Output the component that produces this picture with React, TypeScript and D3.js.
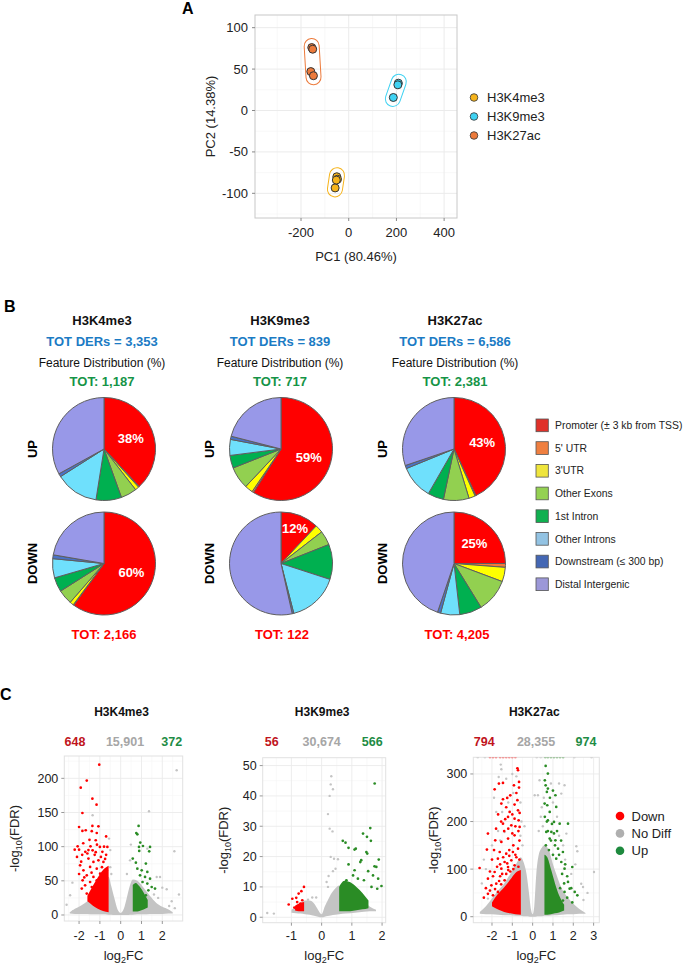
import React from "react";
import * as d3 from "d3";

type Pt = [number, number];

const FONT = "'Liberation Sans', Arial, Helvetica, sans-serif";

// ---------- panel A : PCA ----------
const pcaGroups = ["H3K4me3", "H3K9me3", "H3K27ac"];
const pcaColors = ["#F6B41C", "#3FD2F2", "#EC7A3B"];
const k4me3Pca: Pt[] = [[-57, -93.5], [-50, -80], [-47, -83], [-52, -84]];
const k9me3Pca: Pt[] = [[187, 15.7], [208, 33], [206, 31]];
const k27acPca: Pt[] = [[-155, 76], [-151, 74], [-159, 47], [-148, 42]];
const pcaXTicks = [-200, 0, 200, 400];
const pcaYTicks = [-100, -50, 0, 50, 100];

// ---------- panel B : feature pies ----------
const features = [
  "Promoter (\u00b1 3 kb from TSS)",
  "5' UTR",
  "3'UTR",
  "Other Exons",
  "1st Intron",
  "Other Introns",
  "Downstream (\u2264 300 bp)",
  "Distal Intergenic",
];
const sliceColors = ["#FF0000", "#F47A3A", "#FFFF00", "#92D050", "#00B050", "#6FE0FC", "#4A72C8", "#9898E8"];
const legendColors = ["#E0312A", "#EF7F40", "#EFE53C", "#94D152", "#10B050", "#93C3E3", "#4467B4", "#9C98D8"];
const pieMarks = ["H3K4me3", "H3K9me3", "H3K27ac"];
const totDers = ["3,353", "839", "6,586"];
const totUp = ["1,187", "717", "2,381"];
const totDown = ["2,166", "122", "4,205"];
const upPct = [
  [38, 0.3, 1.2, 5, 8, 13.5, 1, 33],
  [59, 0.5, 2.5, 7, 4, 5, 1, 21],
  [43, 0.3, 2, 8, 5, 10.5, 1, 30.2],
];
const downPct = [
  [60, 0.2, 1.2, 4.6, 4.5, 6, 1.2, 22.3],
  [12, 0, 2.5, 4.5, 11, 16, 0.5, 53.5],
  [25, 1.2, 4.5, 10.5, 7, 6, 1, 44.8],
];
const upLabel = ["38%", "59%", "43%"];
const downLabel = ["60%", "12%", "25%"];

// ---------- panel C : volcano plots ----------
const volcanoTitles = ["H3K4me3", "H3K9me3", "H3K27ac"];
const downCounts = ["648", "56", "794"];
const noDiffCounts = ["15,901", "30,674", "28,355"];
const upCounts = ["372", "566", "974"];

// H3K4me3
const v1BandX = [-2.45, -2.2, -1.9, -1.6, -1.3, -1.0, -0.75, -0.58, -0.45, -0.3, -0.15, 0, 0.15, 0.3, 0.45, 0.58, 0.8, 1.1, 1.4, 1.7, 2.0, 2.3, 2.5];
const v1BandHi = [4, 9, 14, 20, 28, 38, 50, 56, 42, 24, 8, 3, 9, 26, 44, 52, 50, 40, 28, 18, 12, 8, 4];
const v1BandLo = [2, 1.5, 1.5, 1.5, 1, 1, 1, 0.5, 0.5, 0, 0, 0, 0, 0, 0.5, 0.5, 1, 1, 1.5, 1.5, 1.5, 2, 2];
const v1DownX = [-1.6, -1.35, -1.1, -0.85, -0.58];
const v1DownHi = [28, 42, 55, 66, 72];
const v1DownLo = [20, 14, 9, 6, 4];
const v1UpX = [0.58, 0.72, 0.9, 1.1, 1.3];
const v1UpHi = [44, 47, 42, 33, 22];
const v1UpLo = [5, 5, 6, 8, 11];
const v1DownPts: Pt[] = [
  [-1.03, 220], [-1.63, 196.7], [-1.92, 186.4], [-1.36, 170.3], [-1.16, 161.5], [-1.84, 149.3],
  [-2.0, 128.8], [-1.36, 130.3], [-1.07, 129.8], [-1.84, 123], [-1.68, 124], [-1.39, 122.6],
  [-1.2, 109.4], [-2.21, 95.6], [-2.07, 100.5], [-2.0, 95.6], [-1.7, 92.4], [-1.45, 100.5],
  [-1.35, 94.7], [-1.14, 102.9], [-1.0, 99.6], [-0.88, 92.4], [-0.64, 99.6], [-1.55, 82.5],
  [-1.31, 77.6], [-1.07, 80], [-0.83, 77.6], [-1.95, 72.7], [-1.79, 65.4], [-1.47, 70.3],
  [-1.15, 67.8], [-0.67, 65.4], [-1.63, 58.1], [-1.31, 55.7], [-0.99, 60.5], [-1.83, 50.8],
  [-1.47, 48.3], [-1.15, 50.8], [-1.71, 43.4], [-1.39, 41], [-1.87, 38.6], [-1.63, 31.3],
  [-1.23, 33.7], [-1.25, 88], [-0.95, 85], [-0.75, 82], [-1.6, 90], [-1.9, 78], [-0.7, 88],
  [-2.1, 85], [-1.85, 88], [-1.55, 95], [-1.2, 92], [-0.9, 70], [-0.75, 58], [-1.4, 62],
  [-1.75, 55], [-2.0, 60], [-0.8, 100], [-1.15, 120], [-0.7, 115], [-1.5, 110], [-1.8, 105],
];
const v1UpPts: Pt[] = [
  [0.86, 130.3], [0.75, 120], [0.8, 118], [0.94, 106], [1.07, 101], [1.41, 99.6], [0.88, 99.6],
  [0.89, 93.7], [1.37, 93.2], [0.58, 82.5], [0.73, 76.6], [1.21, 75.2], [0.8, 67.8], [1.01, 65.4],
  [1.28, 63], [0.93, 58.1], [1.17, 55.7], [1.41, 53.2], [1.05, 48.3], [1.28, 46], [1.49, 41],
  [1.65, 38.6], [1.33, 36.1], [1.21, 28.8],
];
const v1GreyPts: Pt[] = [
  [2.69, 211.8], [1.36, 151.8], [-1.35, 146], [-0.56, 111.8], [0.49, 103], [1.28, 97.1],
  [2.58, 93.2], [-2.32, 47.3], [-2.43, 28.8], [2.21, 37.6], [1.73, 55.7], [1.89, 55.7],
  [2.33, 13.2], [-0.5, 95], [2.45, 20], [0.3, 60], [-2.6, 15], [-2.3, 5], [2.6, 10], [2.8, 30],
  [-0.5, 70], [-0.45, 60], [0.45, 80], [1.6, 30], [1.8, 25], [2.0, 40],
];

// H3K9me3
const v2BandX = [-1.0, -0.85, -0.7, -0.55, -0.4, -0.25, -0.12, 0, 0.1, 0.2, 0.3, 0.45, 0.58, 0.8, 1.1, 1.4, 1.6, 1.8];
const v2BandHi = [2.5, 3.5, 4.5, 5.5, 5.5, 4.5, 2.5, 1.0, 3.5, 5.5, 7.5, 9.5, 10.5, 9, 7, 5, 3.5, 2.5];
const v2BandLo = [1.5, 1.3, 1.2, 1.0, 0.8, 0.5, 0.2, 0, 0.2, 0.4, 0.6, 0.8, 1.0, 1.2, 1.5, 1.8, 2.0, 2.0];
const v2DownX = [-0.88, -0.75, -0.58];
const v2DownHi = [3.8, 4.5, 5];
const v2DownLo = [2.2, 2.0, 2.0];
const v2UpX = [0.58, 0.75, 0.95, 1.15, 1.35, 1.55];
const v2UpHi = [10, 12, 11.5, 10, 8, 5.5];
const v2UpLo = [2, 2, 2, 2.3, 2.6, 3];
const v2DownPts: Pt[] = [
  [-0.585, 10], [-0.67, 8.6], [-0.76, 7.8], [-0.84, 6.4], [-0.97, 6.1], [-1.09, 4.2],
  [-0.64, 5.6], [-0.81, 5.0], [-0.7, 4.5], [-0.9, 3.2], [-0.78, 3.0], [-0.65, 3.5],
];
const v2UpPts: Pt[] = [
  [1.755, 44.1], [1.61, 29.4], [1.37, 27.6], [1.5, 26.5], [1.63, 25.2], [0.7, 25.2], [0.79, 24.6],
  [0.89, 22.9], [1.09, 22.3], [1.13, 22.6], [1.48, 21.5], [1.51, 21], [1.31, 18.8], [1.28, 18.2],
  [1.89, 19], [0.89, 17.4], [1.75, 16.8], [1.81, 16.6], [1.09, 15.5], [1.54, 15.2], [1.7, 13.8],
  [1.87, 12.7], [1.98, 10.3], [1.84, 9.4], [1.65, 10], [1.4, 12.2], [1.2, 12.7], [1.04, 13.8],
  [0.82, 12.2],
];
const v2GreyPts: Pt[] = [
  [0.32, 46.5], [0.3, 43.8], [0.375, 42.2], [0.265, 40], [0.21, 34], [0.265, 29.2], [0.36, 28.3],
  [0.3, 19.9], [0.41, 19.3], [0.54, 19.1], [0.46, 16], [0.375, 15.2], [0.23, 13.6], [0.165, 11.6],
  [0.21, 10], [-1.8, 1.4], [-1.58, 1.2], [-0.18, 6.5], [-0.31, 6.5], [-0.45, 5.8],
];

// H3K27ac
const v3BandX = [-2.6, -2.3, -2.0, -1.7, -1.4, -1.1, -0.8, -0.58, -0.45, -0.3, -0.18, -0.08, 0, 0.08, 0.18, 0.3, 0.45, 0.58, 0.8, 1.0, 1.2, 1.4, 1.7, 2.0, 2.3, 2.6];
const v3BandHi = [10, 22, 38, 55, 70, 90, 112, 125, 115, 90, 50, 15, 5, 22, 90, 130, 145, 150, 140, 110, 85, 62, 42, 27, 16, 8];
const v3BandLo = [6, 5, 5, 4, 3, 3, 2, 2, 1, 1, 0.5, 0, 0, 0, 0.5, 1, 1, 2, 2, 3, 3, 4, 5, 5, 6, 6];
const v3DownX = [-2.0, -1.7, -1.4, -1.1, -0.85, -0.58];
const v3DownHi = [30, 48, 62, 78, 92, 98];
const v3DownLo = [22, 15, 10, 7, 5, 4];
const v3UpX = [0.58, 0.72, 0.9, 1.1, 1.3, 1.55];
const v3UpHi = [130, 125, 100, 70, 45, 25];
const v3UpLo = [4, 4, 5, 7, 9, 13];
const v3DownPts: Pt[] = [
  [-0.72, 307.8], [-0.75, 312], [-1.87, 267.8], [-1.66, 279.7], [-1.46, 281.1], [-0.67, 283.2],
  [-0.67, 271.3], [-0.92, 276.2], [-1.25, 249.6], [-1.46, 246.8], [-1.54, 237.7], [-0.89, 235.6],
  [-0.72, 223.6], [-1.13, 220.1], [-0.64, 218], [-1.21, 209.6], [-0.89, 206.1], [-1.46, 195.6],
  [-1.05, 192.1], [-0.69, 202.6], [-0.64, 188.6], [-2.2, 174.6], [-1.84, 160.6], [-2.25, 141],
  [-1.54, 157.1], [-1.21, 164.1], [-0.89, 171.1], [-1.62, 136], [-1.3, 132.5], [-0.97, 136],
  [-0.72, 143], [-2.61, 102.4], [-1.71, 122], [-1.38, 115], [-1.05, 118.5], [-1.87, 94],
  [-1.54, 101], [-1.21, 104.5], [-0.89, 108], [-2.03, 66], [-1.79, 69.4], [-1.38, 76.5],
  [-1.95, 45], [-1.71, 52], [-1.1, 95], [-0.8, 125], [-0.65, 160], [-1.3, 90], [-1.6, 85],
  [-0.95, 150], [-1.15, 140], [-1.4, 180], [-1.0, 175], [-0.7, 180], [-1.2, 185], [-0.85, 190],
  [-1.35, 205], [-1.0, 215], [-0.75, 245], [-1.1, 255], [-0.8, 260], [-1.3, 230], [-1.7, 215],
  [-1.55, 200], [-1.8, 185], [-2.0, 120], [-1.9, 140], [-1.45, 125], [-1.15, 128], [-0.85, 130],
  [-0.65, 120], [-1.6, 110], [-1.25, 112], [-0.95, 100], [-0.7, 105], [-2.1, 95], [-1.75, 105],
  [-1.5, 90], [-1.2, 98], [-2.2, 80], [-1.95, 85], [-1.65, 75], [-2.3, 60], [-2.1, 55],
  [-1.85, 58], [-1.55, 68], [-2.4, 40], [-2.2, 48],
];
const v3UpPts: Pt[] = [
  [0.64, 316.9], [0.75, 300.7], [0.6, 286.7], [0.64, 276.2], [0.75, 269.2], [1.12, 255.2],
  [0.7, 262.2], [0.59, 237.7], [0.72, 234.2], [1.16, 230.7], [0.84, 220.1], [0.75, 202.6],
  [1.05, 199.1], [1.33, 195.6], [1.74, 195.6], [0.67, 178.1], [0.92, 178.1], [0.84, 164.1],
  [1.12, 160.6], [1.25, 143], [1.49, 136], [1.95, 104.5], [1.57, 101], [1.41, 115], [1.16, 122],
  [1.74, 73], [1.82, 59], [2.07, 52], [1.57, 52], [1.49, 34], [0.65, 150], [0.8, 140], [1.0, 130],
  [0.7, 200], [0.95, 195], [1.2, 180], [1.4, 160], [0.9, 160], [1.1, 150], [1.3, 130], [1.6, 110],
  [0.75, 180], [1.05, 175], [1.45, 90], [1.7, 85], [1.55, 70], [1.9, 60], [1.35, 60], [2.2, 45],
  [1.7, 40], [1.95, 30], [0.6, 210], [0.85, 250], [1.0, 265],
];
const v3GreyPts: Pt[] = [
  [-1.57, 319.7], [-1.54, 309.9], [-1.67, 293.7], [0.34, 286.7], [0.1, 255.2], [0.26, 255.2],
  [1.57, 276.2], [1.41, 258.7], [-1.79, 220.1], [-1.38, 178.1], [1.66, 174.6], [2.15, 148],
  [2.2, 137.4], [3.02, 94], [2.39, 69.4], [2.48, 62.4], [-2.2, 38], [-2.23, 19], [-1.95, 22.5],
  [-0.4, 190], [0.4, 210], [-1.9, 250], [-2.4, 120], [-2.0, 150], [-1.7, 180], [-1.5, 220],
  [-1.2, 240], [-0.95, 260], [-0.6, 240], [-0.55, 200], [-0.6, 170], [-2.5, 70], [-2.3, 100],
  [-1.6, 160], [-0.5, 150], [0.5, 190], [0.45, 230], [0.55, 250], [0.3, 180], [1.3, 170],
  [1.5, 150], [1.6, 120], [1.9, 90], [2.1, 110], [1.2, 210], [1.0, 240], [0.9, 280], [1.3, 280],
  [2.7, 50], [2.5, 35], [-1.0, 300], [-1.3, 290], [-0.8, 295],
];
const v3CapDownX = [-2.1, -1.95, -1.8, -1.6, -1.45, -1.3, -1.15, -1.0, -0.85];
const v3CapUpX = [0.62, 0.75, 0.9, 1.05, 1.2, 1.35, 1.5];
const v3CapGreyX = [-2.7, -2.35, 0.2, 0.4, 2.05, 2.9];

const RED = "#FF0000";
const GREY = "#C4C4C4";
const GREEN = "#2A8C25";

// ---------- helpers ----------
function stadium(pts: Pt[], sx: (v: number) => number, sy: (v: number) => number, r: number) {
  const px = pts.map((p) => [sx(p[0]), sy(p[1])]);
  let best = [px[0], px[0]];
  let bd = -1;
  px.forEach((a) =>
    px.forEach((b) => {
      const d = Math.hypot(a[0] - b[0], a[1] - b[1]);
      if (d > bd) {
        bd = d;
        best = [a, b];
      }
    })
  );
  const [a, b] = best;
  const cx = (a[0] + b[0]) / 2;
  const cy = (a[1] + b[1]) / 2;
  const ang = (Math.atan2(b[1] - a[1], b[0] - a[0]) * 180) / Math.PI;
  return { cx, cy, len: bd + 3, ang, r };
}

function PcaPanel() {
  const x = d3.scaleLinear().domain([-393, 454]).range([255, 457]);
  const y = d3.scaleLinear().domain([-129.8, 115.3]).range([218, 15]);
  const groups = [k4me3Pca, k9me3Pca, k27acPca];
  const xMinor = [-300, -100, 100, 300];
  const yMinor = [-125, -75, -25, 25, 75];
  return (
    <g>
      <text x={182} y={14} fontSize={16} fontWeight="bold">A</text>
      {xMinor.map((t) => (
        <line key={"xm" + t} x1={x(t)} x2={x(t)} y1={15} y2={218} stroke="#F4F4F4" strokeWidth={0.6} />
      ))}
      {yMinor.map((t) => (
        <line key={"ym" + t} x1={255} x2={457} y1={y(t)} y2={y(t)} stroke="#F4F4F4" strokeWidth={0.6} />
      ))}
      {pcaXTicks.map((t) => (
        <line key={"xg" + t} x1={x(t)} x2={x(t)} y1={15} y2={218} stroke="#EBEBEB" strokeWidth={1} />
      ))}
      {pcaYTicks.map((t) => (
        <line key={"yg" + t} x1={255} x2={457} y1={y(t)} y2={y(t)} stroke="#EBEBEB" strokeWidth={1} />
      ))}
      <rect x={255} y={15} width={202} height={203} fill="none" stroke="#C8C8C8" strokeWidth={1} />
      {pcaXTicks.map((t) => (
        <g key={"xt" + t}>
          <line x1={x(t)} x2={x(t)} y1={218} y2={221} stroke="#888" />
          <text x={x(t)} y={236.5} fontSize={13} textAnchor="middle" fill="#222">{t}</text>
        </g>
      ))}
      {pcaYTicks.map((t) => (
        <g key={"yt" + t}>
          <line x1={252} x2={255} y1={y(t)} y2={y(t)} stroke="#888" />
          <text x={248} y={y(t) + 4.5} fontSize={13} textAnchor="end" fill="#222">{t}</text>
        </g>
      ))}
      <text x={356} y={261} fontSize={13} textAnchor="middle" fill="#222">PC1 (80.46%)</text>
      <text transform="translate(214.5,116.5) rotate(-90)" fontSize={13} textAnchor="middle" fill="#222">
        PC2 (14.38%)
      </text>
      {groups.map((g, i) => {
        const s = stadium(g, x, y, 7.5);
        return (
          <rect
            key={"h" + i}
            transform={`translate(${s.cx},${s.cy}) rotate(${s.ang})`}
            x={-s.len / 2 - s.r}
            y={-s.r}
            width={s.len + 2 * s.r}
            height={2 * s.r}
            rx={s.r}
            fill="none"
            stroke={pcaColors[i]}
            strokeWidth={1}
          />
        );
      })}
      {groups.map((g, i) =>
        g.map((p, j) => (
          <circle key={`p${i}-${j}`} cx={x(p[0])} cy={y(p[1])} r={4} fill={pcaColors[i]} stroke="#333" strokeWidth={1} />
        ))
      )}
      {pcaGroups.map((name, i) => (
        <g key={name}>
          <circle cx={474} cy={97.5 + i * 19} r={3.8} fill={pcaColors[i]} stroke="#333" strokeWidth={0.8} />
          <text x={487} y={97.5 + i * 19 + 4.5} fontSize={13} fill="#222">{name}</text>
        </g>
      ))}
    </g>
  );
}

function PiePanel() {
  const pie = d3.pie<number>().sort(null).value((d) => d);
  const R = 51.5;
  const arc = d3.arc<d3.PieArcDatum<number>>().innerRadius(0).outerRadius(R);
  const pieCx = [104, 281, 454];
  const textCx = [102, 280, 455];
  const upCy = 449;
  const downCy = 563.5;
  const one = (vals: number[], cx: number, cy: number, label: string, key: string) => {
    const arcs = pie(vals);
    const lr = vals[0] < 20 ? R * 0.74 : R * 0.56;
    const c = d3.arc<d3.PieArcDatum<number>>().innerRadius(lr).outerRadius(lr).centroid(arcs[0]);
    return (
      <g key={key} transform={`translate(${cx},${cy})`}>
        {arcs.map((a, i) =>
          a.value > 0 ? (
            <path key={i} d={arc(a) || ""} fill={sliceColors[i]} stroke="#5E5E5E" strokeWidth={1} />
          ) : null
        )}
        <text x={c[0]} y={c[1] + 4.5} fontSize={13} fontWeight="bold" fill="#fff" textAnchor="middle">
          {label}
        </text>
      </g>
    );
  };
  return (
    <g>
      <text x={4} y={312} fontSize={16} fontWeight="bold">B</text>
      {pieMarks.map((m, i) => (
        <g key={m}>
          <text x={textCx[i]} y={324.5} fontSize={13} fontWeight="bold" textAnchor="middle" fill="#111">{m}</text>
          <text x={textCx[i]} y={346} fontSize={13} fontWeight="bold" textAnchor="middle" fill="#1B7BC4">
            {`TOT DERs = ${totDers[i]}`}
          </text>
          <text x={textCx[i]} y={367} fontSize={12} textAnchor="middle" fill="#111">Feature Distribution (%)</text>
          <text x={textCx[i]} y={386} fontSize={13} fontWeight="bold" textAnchor="middle" fill="#169447">
            {`TOT: ${totUp[i]}`}
          </text>
          {one(upPct[i], pieCx[i], upCy, upLabel[i], "u" + i)}
          {one(downPct[i], pieCx[i], downCy, downLabel[i], "d" + i)}
          <text transform={`translate(${pieCx[i] - R - 16},${upCy}) rotate(-90)`} fontSize={13} fontWeight="bold" textAnchor="middle">UP</text>
          <text transform={`translate(${pieCx[i] - R - 16},${downCy}) rotate(-90)`} fontSize={13} fontWeight="bold" textAnchor="middle">DOWN</text>
          <text x={textCx[i] + 2} y={639} fontSize={13} fontWeight="bold" textAnchor="middle" fill="#FF0000">
            {`TOT: ${totDown[i]}`}
          </text>
        </g>
      ))}
      {features.map((f, i) => (
        <g key={f}>
          <rect x={536} y={419 + i * 22.7} width={12.3} height={12.7} fill={legendColors[i]} stroke="#555" strokeWidth={0.8} />
          <text x={555} y={419 + i * 22.7 + 10} fontSize={10.4} fill="#222">{f}</text>
        </g>
      ))}
    </g>
  );
}

interface VSpec {
  idx: number;
  left: number;
  right: number;
  top: number;
  bottom: number;
  xDomain: [number, number];
  yDomain: [number, number];
  xTicks: number[];
  yTicks: number[];
  ylabX: number;
  countX: number[];
  band: [number[], number[], number[]];
  down: [number[], number[], number[]];
  up: [number[], number[], number[]];
  downPts: Pt[];
  upPts: Pt[];
  greyPts: Pt[];
  capDown?: number[];
  capUp?: number[];
  capGrey?: number[];
}

function Volcano({ s }: { s: VSpec }) {
  const x = d3.scaleLinear().domain(s.xDomain).range([s.left, s.right]);
  const y = d3.scaleLinear().domain(s.yDomain).range([s.bottom, s.top]);
  const area = (a: [number[], number[], number[]]) =>
    d3
      .area<number>()
      .x((_, i) => x(a[0][i]))
      .y0((_, i) => y(a[2][i]))
      .y1((_, i) => y(a[1][i]))
      .curve(d3.curveMonotoneX)(a[0].map((_, i) => i)) || "";
  const xs = s.xTicks[1] - s.xTicks[0];
  const ys = s.yTicks[1] - s.yTicks[0];
  const xMinor = [s.xTicks[0] - xs / 2, ...s.xTicks.map((t) => t + xs / 2)].filter((t) => t > s.xDomain[0] && t < s.xDomain[1]);
  const yMinor = [s.yTicks[0] - ys / 2, ...s.yTicks.map((t) => t + ys / 2)].filter((t) => t > s.yDomain[0] && t < s.yDomain[1]);
  const clip = "vclip" + s.idx;
  const midX = (s.left + s.right) / 2;
  const midY = (s.top + s.bottom) / 2;
  const capY = s.yDomain[1];
  return (
    <g>
      <defs>
        <clipPath id={clip}>
          <rect x={s.left} y={s.top} width={s.right - s.left} height={s.bottom - s.top} />
        </clipPath>
      </defs>
      <text x={midX - 2} y={716} fontSize={12} fontWeight="bold" textAnchor="middle" fill="#111">
        {volcanoTitles[s.idx]}
      </text>
      <text x={s.countX[0]} y={745.5} fontSize={12.5} fontWeight="bold" textAnchor="middle" fill="#C0141C">{downCounts[s.idx]}</text>
      <text x={s.countX[1]} y={745.5} fontSize={12.5} fontWeight="bold" textAnchor="middle" fill="#A6A6A6">{noDiffCounts[s.idx]}</text>
      <text x={s.countX[2]} y={745.5} fontSize={12.5} fontWeight="bold" textAnchor="middle" fill="#1E8C45">{upCounts[s.idx]}</text>
      {xMinor.map((t) => (
        <line key={"xm" + t} x1={x(t)} x2={x(t)} y1={s.top} y2={s.bottom} stroke="#F5F5F5" strokeWidth={0.6} />
      ))}
      {yMinor.map((t) => (
        <line key={"ym" + t} x1={s.left} x2={s.right} y1={y(t)} y2={y(t)} stroke="#F5F5F5" strokeWidth={0.6} />
      ))}
      {s.xTicks.map((t) => (
        <line key={"xg" + t} x1={x(t)} x2={x(t)} y1={s.top} y2={s.bottom} stroke="#EBEBEB" strokeWidth={0.9} />
      ))}
      {s.yTicks.map((t) => (
        <line key={"yg" + t} x1={s.left} x2={s.right} y1={y(t)} y2={y(t)} stroke="#EBEBEB" strokeWidth={0.9} />
      ))}
      <rect x={s.left} y={s.top} width={s.right - s.left} height={s.bottom - s.top} fill="none" stroke="#E2E2E2" strokeWidth={1} />
      <g clipPath={`url(#${clip})`}>
        <path d={area(s.band)} fill={GREY} />
        {s.greyPts.map((p, i) => (
          <circle key={"g" + i} cx={x(p[0])} cy={y(p[1])} r={1.2} fill={GREY} />
        ))}
        <path d={area(s.down)} fill={RED} />
        <path d={area(s.up)} fill={GREEN} />
        {s.downPts.map((p, i) => (
          <circle key={"r" + i} cx={x(p[0])} cy={y(p[1])} r={1.35} fill={RED} />
        ))}
        {s.upPts.map((p, i) => (
          <circle key={"u" + i} cx={x(p[0])} cy={y(p[1])} r={1.35} fill={GREEN} />
        ))}
        {(s.capGrey || []).map((v, i) => (
          <circle key={"cg" + i} cx={x(v)} cy={y(capY)} r={1.3} fill={GREY} opacity={0.7} />
        ))}
        {(s.capDown || []).map((v, i) => (
          <circle key={"cr" + i} cx={x(v)} cy={y(capY)} r={1.3} fill={RED} opacity={0.45} />
        ))}
        {(s.capUp || []).map((v, i) => (
          <circle key={"cu" + i} cx={x(v)} cy={y(capY)} r={1.3} fill={GREEN} opacity={0.45} />
        ))}
      </g>
      {s.xTicks.map((t) => (
        <g key={"xt" + t}>
          <line x1={x(t)} x2={x(t)} y1={s.bottom} y2={s.bottom + 3} stroke="#999" />
          <text x={x(t)} y={939.5} fontSize={12.5} textAnchor="middle" fill="#222">{t}</text>
        </g>
      ))}
      {s.yTicks.map((t) => (
        <g key={"yt" + t}>
          <line x1={s.left - 3} x2={s.left} y1={y(t)} y2={y(t)} stroke="#999" />
          <text x={s.left - 6} y={y(t) + 4.5} fontSize={12.5} textAnchor="end" fill="#222">{t}</text>
        </g>
      ))}
      <text x={midX} y={960} fontSize={13} textAnchor="middle" fill="#222">
        log<tspan dy={3} fontSize={9}>2</tspan>
        <tspan dy={-3}>FC</tspan>
      </text>
      <text transform={`translate(${s.ylabX},${midY}) rotate(-90)`} fontSize={13} textAnchor="middle" fill="#222">
        -log<tspan dy={3} fontSize={9}>10</tspan>
        <tspan dy={-3}>(FDR)</tspan>
      </text>
    </g>
  );
}

const volcanoSpecs: VSpec[] = [
  {
    idx: 0, left: 64.3, right: 182.7, top: 756, bottom: 921,
    xDomain: [-2.71, 2.98], yDomain: [-8.8, 232.7],
    xTicks: [-2, -1, 0, 1, 2], yTicks: [0, 50, 100, 150, 200],
    ylabX: 19, countX: [75, 125, 171.7],
    band: [v1BandX, v1BandHi, v1BandLo], down: [v1DownX, v1DownHi, v1DownLo], up: [v1UpX, v1UpHi, v1UpLo],
    downPts: v1DownPts, upPts: v1UpPts, greyPts: v1GreyPts,
  },
  {
    idx: 1, left: 262.7, right: 385.7, top: 757.7, bottom: 922.7,
    xDomain: [-1.95, 2.12], yDomain: [-1.8, 52.6],
    xTicks: [-1, 0, 1, 2], yTicks: [0, 10, 20, 30, 40, 50],
    ylabX: 228, countX: [271.7, 321.7, 372.3],
    band: [v2BandX, v2BandHi, v2BandLo], down: [v2DownX, v2DownHi, v2DownLo], up: [v2UpX, v2UpHi, v2UpLo],
    downPts: v2DownPts, upPts: v2UpPts, greyPts: v2GreyPts,
  },
  {
    idx: 2, left: 473.3, right: 599.3, top: 757.3, bottom: 922.7,
    xDomain: [-2.92, 3.28], yDomain: [-12.6, 335],
    xTicks: [-2, -1, 0, 1, 2, 3], yTicks: [0, 100, 200, 300],
    ylabX: 438, countX: [484.3, 536, 586],
    band: [v3BandX, v3BandHi, v3BandLo], down: [v3DownX, v3DownHi, v3DownLo], up: [v3UpX, v3UpHi, v3UpLo],
    downPts: v3DownPts, upPts: v3UpPts, greyPts: v3GreyPts,
    capDown: v3CapDownX, capUp: v3CapUpX, capGrey: v3CapGreyX,
  },
];

const volcanoLegend = ["Down", "No Diff", "Up"];
const volcanoLegendColors = ["#FF0000", "#AFAFAF", "#1E8A3E"];

export default function App() {
  return (
    <svg
      width={685}
      height={964}
      style={{ position: "absolute", left: 0, top: 0, background: "#fff" }}
      fontFamily={FONT}
    >
      <rect width={685} height={964} fill="#fff" />
      <PcaPanel />
      <PiePanel />
      <text x={0} y={700} fontSize={16} fontWeight="bold">C</text>
      {volcanoSpecs.map((s) => (
        <Volcano key={s.idx} s={s} />
      ))}
      {volcanoLegend.map((l, i) => (
        <g key={l}>
          <circle cx={620} cy={816 + i * 17.4} r={4.3} fill={volcanoLegendColors[i]} />
          <text x={631.5} y={816 + i * 17.4 + 4.6} fontSize={13} fill="#222">{l}</text>
        </g>
      ))}
    </svg>
  );
}
